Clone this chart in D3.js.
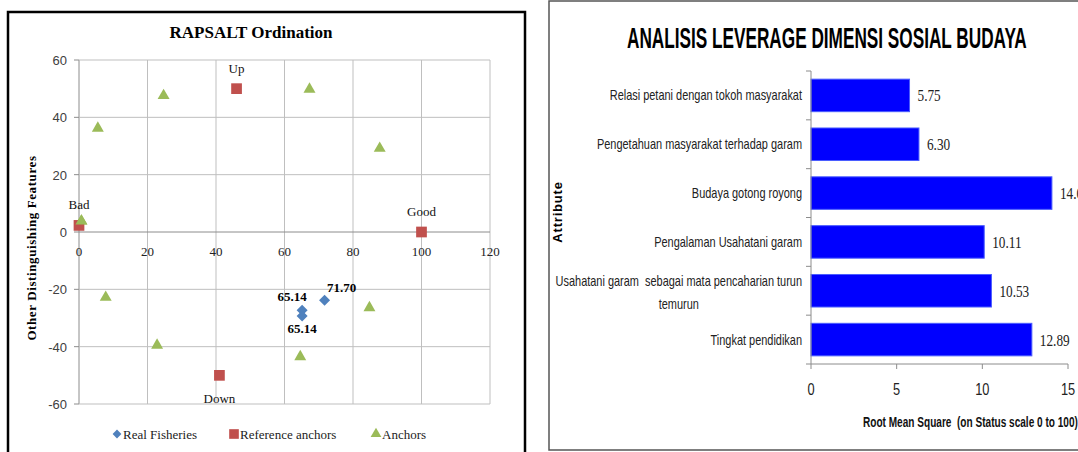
<!DOCTYPE html>
<html>
<head>
<meta charset="utf-8">
<script src="https://cdn.jsdelivr.net/npm/d3@7"></script>
<style>
  body { margin: 0; background: #fff; }
  svg { display: block; }
</style>
</head>
<body>
<div id="chart"></div>
<script>
// ---- left chart data (RAPSALT ordination) ----
var fishX = [65.14, 65.14, 71.70],
    fishY = [-27.3, -29.3, -23.8],
    fishLabels = ['65.14', '65.14', '71.70'];
var refX = [0, 100, 46, 41],
    refY = [2.3, 0, 50, -50],
    refLabels = ['Bad', 'Good', 'Up', 'Down'];
var anchorX = [0.7, 5.5, 24.7, 67.3, 87.8, 7.8, 22.8, 64.6, 84.8],
    anchorY = [3.8, 36.2, 47.6, 49.8, 29.2, -22.8, -39.5, -43.5, -26.4];
var xTicks = [0, 20, 40, 60, 80, 100, 120],
    yTicks = [-60, -40, -20, 0, 20, 40, 60];

// ---- right chart data (leverage) ----
var attributes = [
  'Relasi petani dengan tokoh masyarakat',
  'Pengetahuan masyarakat terhadap garam',
  'Budaya gotong royong',
  'Pengalaman Usahatani garam',
  'Usahatani garam  sebagai mata pencaharian turun|temurun',
  'Tingkat pendidikan'
];
var rmsValues = [5.75, 6.30, 14.06, 10.11, 10.53, 12.89];
var rmsTicks = [0, 5, 10, 15];

var serif = "'Liberation Serif', 'Times New Roman', serif",
    sans = "'Liberation Sans', Arial, sans-serif";

var svg = d3.select('#chart').append('svg')
  .attr('width', 1078)
  .attr('height', 452);

svg.append('rect').attr('width', 1078).attr('height', 452).attr('fill', '#fff');

// ================= LEFT PANEL =================
var left = svg.append('g');

left.append('rect')
  .attr('x', 8).attr('y', 12).attr('width', 517).attr('height', 470)
  .attr('fill', 'none').attr('stroke', '#000').attr('stroke-width', 2.5);

var x = d3.scaleLinear().domain([0, 120]).range([79, 490]);
var y = d3.scaleLinear().domain([-60, 60]).range([404, 60]);

left.append('text')
  .attr('x', 251).attr('y', 38)
  .attr('text-anchor', 'middle')
  .style('font-family', serif).style('font-weight', 'bold').style('font-size', '17px')
  .text('RAPSALT Ordination');

// grid
left.selectAll('line.vgrid').data(xTicks).enter().append('line')
  .attr('x1', function(d) { return x(d); }).attr('x2', function(d) { return x(d); })
  .attr('y1', y(60)).attr('y2', y(-60))
  .attr('stroke', function(d) { return d === 0 ? '#8c8c8c' : '#bfbfbf'; })
  .attr('stroke-width', 1);
left.selectAll('line.hgrid').data(yTicks).enter().append('line')
  .attr('x1', x(0)).attr('x2', x(120))
  .attr('y1', function(d) { return y(d); }).attr('y2', function(d) { return y(d); })
  .attr('stroke', function(d) { return d === 0 ? '#8c8c8c' : '#bfbfbf'; })
  .attr('stroke-width', 1);

// y ticks (outside, left)
left.selectAll('line.ytick').data(yTicks).enter().append('line')
  .attr('x1', x(0) - 5).attr('x2', x(0))
  .attr('y1', function(d) { return y(d); }).attr('y2', function(d) { return y(d); })
  .attr('stroke', '#8c8c8c');
left.selectAll('text.ylab').data(yTicks).enter().append('text')
  .attr('x', 67).attr('y', function(d) { return y(d) + 5; })
  .attr('text-anchor', 'end')
  .style('font-family', sans).style('font-size', '13px').attr('fill', '#404040')
  .text(function(d) { return d; });

// x tick labels under the zero line
left.selectAll('text.xlab').data(xTicks).enter().append('text')
  .attr('x', function(d) { return x(d); }).attr('y', y(0) + 24)
  .attr('text-anchor', 'middle')
  .style('font-family', serif).style('font-size', '13px').attr('fill', '#222')
  .text(function(d) { return d; });

left.append('text')
  .attr('transform', 'translate(36,' + 248 + ') rotate(-90)')
  .attr('text-anchor', 'middle')
  .style('font-family', serif).style('font-weight', 'bold').style('font-size', '13px')
  .style('letter-spacing', '0.6px')
  .text('Other Distinguishing Features');

// markers
var diamond = 'M0,-5.5L5.5,0L0,5.5L-5.5,0Z';
var square = d3.symbol(d3.symbolSquare, 115)();
var triangle = d3.symbol(d3.symbolTriangle, 62)();

left.selectAll('path.anchor').data(anchorX).enter().append('path')
  .attr('d', triangle)
  .attr('transform', function(d, i) { return 'translate(' + x(d) + ',' + y(anchorY[i]) + ')'; })
  .attr('fill', '#9BBB59');

left.selectAll('path.ref').data(refX).enter().append('path')
  .attr('d', square)
  .attr('transform', function(d, i) { return 'translate(' + x(d) + ',' + y(refY[i]) + ')'; })
  .attr('fill', '#C0504D');

// anchor near 0 overlaps the Bad square; draw it again on top as in the picture
left.append('path')
  .attr('d', triangle)
  .attr('transform', 'translate(' + x(anchorX[0]) + ',' + y(anchorY[0]) + ')')
  .attr('fill', '#9BBB59');

left.selectAll('path.fish').data(fishX).enter().append('path')
  .attr('d', diamond)
  .attr('transform', function(d, i) { return 'translate(' + x(d) + ',' + y(fishY[i]) + ')'; })
  .attr('fill', '#4F81BD');

// reference labels: Down below, others above
left.selectAll('text.reflab').data(refLabels).enter().append('text')
  .attr('x', function(d, i) { return x(refX[i]); })
  .attr('y', function(d, i) { return y(refY[i]) + (d === 'Down' ? 28 : -16); })
  .attr('text-anchor', 'middle')
  .style('font-family', serif).style('font-size', '13px').attr('fill', '#111')
  .text(function(d) { return d; });

var fishDx = [-10, 0, 17], fishDy = [-9, 17, -8];
left.selectAll('text.fishlab').data(fishLabels).enter().append('text')
  .attr('x', function(d, i) { return x(fishX[i]) + fishDx[i]; })
  .attr('y', function(d, i) { return y(fishY[i]) + fishDy[i]; })
  .attr('text-anchor', 'middle')
  .style('font-family', serif).style('font-weight', 'bold').style('font-size', '13px')
  .text(function(d) { return d; });

// legend
var legendItems = [
  { name: 'Real Fisheries', shape: diamond, color: '#4F81BD', x: 117 },
  { name: 'Reference anchors', shape: square, color: '#C0504D', x: 234 },
  { name: 'Anchors', shape: triangle, color: '#9BBB59', x: 376 }
];
var leg = left.selectAll('g.leg').data(legendItems).enter().append('g')
  .attr('transform', function(d) { return 'translate(' + d.x + ',434)'; });
leg.append('path')
  .attr('d', function(d) { return d.shape; })
  .attr('fill', function(d) { return d.color; })
  .attr('transform', function(d) { return d.shape === diamond ? 'scale(0.8)' : 'scale(0.9)'; });
leg.append('text')
  .attr('x', 6).attr('y', 5)
  .style('font-family', serif).style('font-size', '13px').attr('fill', '#222')
  .text(function(d) { return d.name; });

// ================= RIGHT PANEL =================
var right = svg.append('g');

right.append('rect')
  .attr('x', 549).attr('y', 1).attr('width', 600).attr('height', 449)
  .attr('fill', 'none').attr('stroke', '#555').attr('stroke-width', 1.5);

// title squeezed horizontally to the width seen in the picture
var title = right.append('text')
  .style('font-family', sans).style('font-weight', 'bold').style('font-size', '30px')
  .text('ANALISIS LEVERAGE DIMENSI SOSIAL BUDAYA');
var titleScale = 400 / title.node().getComputedTextLength();
title.attr('transform', 'translate(627,48) scale(' + titleScale + ',1)');

var xr = d3.scaleLinear().domain([0, 15]).range([811, 1068]);
var yr = d3.scaleBand().domain(attributes).range([71, 364])
  .paddingInner(0.334).paddingOuter(0.167);

right.selectAll('rect.bar').data(rmsValues).enter().append('rect')
  .attr('x', xr(0))
  .attr('y', function(d, i) { return yr(attributes[i]); })
  .attr('width', function(d) { return xr(d) - xr(0); })
  .attr('height', yr.bandwidth())
  .attr('fill', '#0000FF')
  .attr('stroke', '#4a5cff').attr('stroke-width', 1);

// axes lines
right.append('line')
  .attr('x1', xr(0)).attr('x2', xr(0)).attr('y1', 71).attr('y2', 364)
  .attr('stroke', '#8c8c8c');
right.append('line')
  .attr('x1', xr(0)).attr('x2', xr(15)).attr('y1', 364).attr('y2', 364)
  .attr('stroke', '#8c8c8c');

var bounds = d3.range(attributes.length + 1).map(function(i) { return 71 + i * yr.step(); });
right.selectAll('line.ytick').data(bounds).enter().append('line')
  .attr('x1', xr(0) - 5).attr('x2', xr(0))
  .attr('y1', function(d) { return d; }).attr('y2', function(d) { return d; })
  .attr('stroke', '#8c8c8c');
right.selectAll('line.xtick').data(rmsTicks).enter().append('line')
  .attr('x1', function(d) { return xr(d); }).attr('x2', function(d) { return xr(d); })
  .attr('y1', 364).attr('y2', 369)
  .attr('stroke', '#8c8c8c');

right.selectAll('text.xlab').data(rmsTicks).enter().append('text')
  .attr('transform', function(d) { return 'translate(' + xr(d) + ',395) scale(0.8,1)'; })
  .attr('text-anchor', 'middle')
  .style('font-family', sans).style('font-size', '16px').attr('fill', '#222')
  .text(function(d) { return d; });

// category labels (condensed look)
var catG = right.selectAll('g.cat').data(attributes).enter().append('g')
  .attr('transform', function(d) {
    return 'translate(' + (xr(0) - 9) + ',' + (yr(d) + yr.bandwidth() / 2) + ') scale(0.73,1)';
  });
catG.each(function(d) {
  var lines = d.split('|');
  var g = d3.select(this);
  if (lines.length === 1) {
    g.append('text').attr('x', 0).attr('y', 5)
      .attr('text-anchor', 'end')
      .style('font-family', sans).style('font-size', '15px').attr('fill', '#222')
      .text(lines[0]);
  } else {
    var t1 = g.append('text').attr('x', 0).attr('y', -5)
      .attr('text-anchor', 'end')
      .style('font-family', sans).style('font-size', '15px').attr('fill', '#222')
      .style('white-space', 'pre')
      .text(lines[0]);
    var w = t1.node().getComputedTextLength();
    g.append('text').attr('x', -w / 2).attr('y', 18)
      .attr('text-anchor', 'middle')
      .style('font-family', sans).style('font-size', '15px').attr('fill', '#222')
      .text(lines[1]);
  }
});

right.selectAll('text.val').data(rmsValues).enter().append('text')
  .attr('transform', function(d, i) {
    return 'translate(' + (xr(d) + 8) + ',' + (yr(attributes[i]) + yr.bandwidth() / 2 + 6) + ') scale(0.78,1)';
  })
  .style('font-family', serif).style('font-size', '17px').attr('fill', '#222')
  .text(function(d) { return d.toFixed(2); });

right.append('text')
  .attr('transform', 'translate(562,212) rotate(-90)')
  .attr('text-anchor', 'middle')
  .style('font-family', sans).style('font-weight', 'bold').style('font-size', '13px')
  .style('letter-spacing', '0.8px')
  .text('Attribute');

right.append('text')
  .attr('transform', 'translate(863,427) scale(0.72,1)')
  .style('font-family', sans).style('font-weight', 'bold').style('font-size', '14px')
  .style('white-space', 'pre')
  .attr('fill', '#111')
  .text('Root Mean Square  (on Status scale 0 to 100)');
</script>
</body>
</html>
